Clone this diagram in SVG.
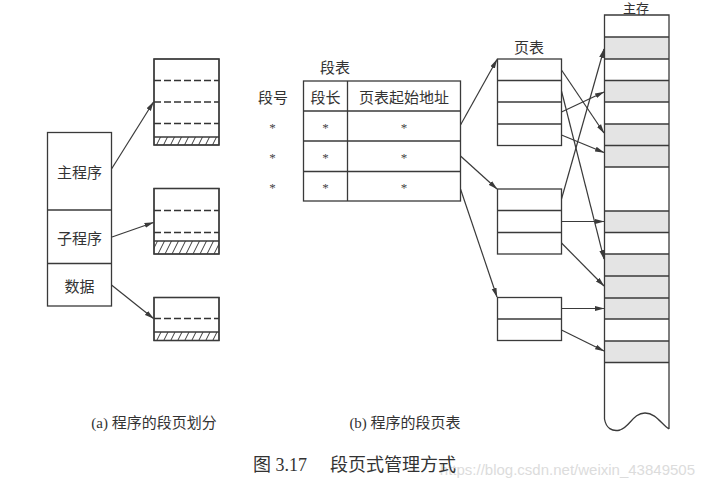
<svg xmlns="http://www.w3.org/2000/svg" width="708" height="489" viewBox="0 0 708 489">
<style>
.box{fill:#fff;stroke:#3a3a3a;stroke-width:1.3}
.ln{stroke:#3a3a3a;stroke-width:1.3;fill:none}
.dash{stroke:#333;stroke-width:1.3;stroke-dasharray:7 3;fill:none}
.gray{fill:#e4e4e4;stroke:none}
.t{font-family:"Liberation Serif","Noto Sans CJK SC",serif;font-size:15px;fill:#333;text-anchor:middle}
.star{font-family:"Liberation Serif",serif;font-size:13px;fill:#444;text-anchor:middle}
.arr{stroke:#3a3a3a;stroke-width:1.2;fill:none;marker-end:url(#ah)}
</style>
<defs>
<marker id="ah" markerUnits="userSpaceOnUse" markerWidth="10" markerHeight="6" refX="9" refY="3" orient="auto">
<path d="M0,0.5 L9.5,3 L0,5.5 z" fill="#3a3a3a"/>
</marker>
<pattern id="hatch" patternUnits="userSpaceOnUse" width="7" height="14">
<path d="M-2,14 L5,0 M5,14 L12,0" stroke="#3a3a3a" stroke-width="1"/>
</pattern>
</defs>
<rect width="708" height="489" fill="#fff"/>

<!-- (a) program -->
<g id="program">
<rect class="box" x="47.5" y="132.5" width="64" height="173.5"/>
<line class="ln" x1="47.5" y1="210" x2="111.5" y2="210"/>
<line class="ln" x1="47.5" y1="263.5" x2="111.5" y2="263.5"/>
<text class="t" x="79.5" y="178">主程序</text>
<text class="t" x="79.5" y="243.5">子程序</text>
<text class="t" x="79.5" y="292">数据</text>
</g>

<g id="seg-main">
<rect class="box" x="154" y="59" width="65" height="86"/>
<rect x="154" y="137" width="65" height="8" fill="url(#hatch)"/>
<line class="ln" x1="154" y1="137" x2="219" y2="137" stroke-width="0.8"/>
<line class="dash" x1="154" y1="80.5" x2="219" y2="80.5"/>
<line class="dash" x1="154" y1="102" x2="219" y2="102"/>
<line class="dash" x1="154" y1="123.5" x2="219" y2="123.5"/>
<rect x="154" y="59" width="65" height="86" fill="none" stroke="#3a3a3a" stroke-width="1.3"/>
</g>

<g id="seg-sub">
<rect class="box" x="154" y="188.5" width="65" height="65.5"/>
<rect x="154" y="241" width="65" height="13" fill="url(#hatch)"/>
<line class="ln" x1="154" y1="241" x2="219" y2="241" stroke-width="0.8"/>
<line class="dash" x1="154" y1="210.5" x2="219" y2="210.5"/>
<line class="dash" x1="154" y1="232.5" x2="219" y2="232.5"/>
<rect x="154" y="188.5" width="65" height="65.5" fill="none" stroke="#3a3a3a" stroke-width="1.3"/>
</g>

<g id="seg-data">
<rect class="box" x="154" y="297.5" width="65" height="43"/>
<rect x="154" y="332" width="65" height="8.5" fill="url(#hatch)"/>
<line class="ln" x1="154" y1="332" x2="219" y2="332" stroke-width="0.8"/>
<line class="dash" x1="154" y1="318.5" x2="219" y2="318.5"/>
<rect x="154" y="297.5" width="65" height="43" fill="none" stroke="#3a3a3a" stroke-width="1.3"/>
</g>

<!-- (b) segment table -->
<g id="seg-table">
<text class="t" x="335" y="73">段表</text>
<text class="t" x="273" y="102.5">段号</text>
<rect class="box" x="303.5" y="81" width="157" height="120"/>
<line class="ln" x1="347.5" y1="81" x2="347.5" y2="201"/>
<line class="ln" x1="303.5" y1="111" x2="460.5" y2="111"/>
<line class="ln" x1="303.5" y1="141" x2="460.5" y2="141"/>
<line class="ln" x1="303.5" y1="171.5" x2="460.5" y2="171.5"/>
<text class="t" x="325.5" y="102.5">段长</text>
<text class="t" x="404" y="102.5">页表起始地址</text>
<text class="star" x="272.5" y="132">*</text>
<text class="star" x="325.5" y="132">*</text>
<text class="star" x="404" y="132">*</text>
<text class="star" x="272.5" y="162">*</text>
<text class="star" x="325.5" y="162">*</text>
<text class="star" x="404" y="162">*</text>
<text class="star" x="272.5" y="192">*</text>
<text class="star" x="325.5" y="192">*</text>
<text class="star" x="404" y="192">*</text>
</g>

<g id="page-table-1">
<text class="t" x="529" y="53">页表</text>
<rect class="box" x="497.5" y="59" width="64" height="86.5"/>
<line class="ln" x1="497.5" y1="80.5" x2="561.5" y2="80.5"/>
<line class="ln" x1="497.5" y1="102" x2="561.5" y2="102"/>
<line class="ln" x1="497.5" y1="124" x2="561.5" y2="124"/>
</g>
<g id="page-table-2">
<rect class="box" x="497.5" y="189" width="64" height="65"/>
<line class="ln" x1="497.5" y1="210.5" x2="561.5" y2="210.5"/>
<line class="ln" x1="497.5" y1="232.5" x2="561.5" y2="232.5"/>
</g>
<g id="page-table-3">
<rect class="box" x="497.5" y="297.5" width="64" height="43"/>
<line class="ln" x1="497.5" y1="319" x2="561.5" y2="319"/>
</g>

<!-- main memory -->
<g id="memory">
<text class="t" x="636" y="12.5" style="font-size:13px">主存</text>
<path d="M604.5,419 L604.5,15 L669,15 L669,429 C662,425 656,413 645,413 C633,413 630,427 620,430 C612,432 606,428 604.5,419 Z" fill="#fff"/>
<rect class="gray" x="604.5" y="37" width="64.5" height="22"/>
<rect class="gray" x="604.5" y="80.5" width="64.5" height="21.5"/>
<rect class="gray" x="604.5" y="124" width="64.5" height="43"/>
<rect class="gray" x="604.5" y="211" width="64.5" height="21.5"/>
<rect class="gray" x="604.5" y="254" width="64.5" height="65"/>
<rect class="gray" x="604.5" y="341" width="64.5" height="21.5"/>
<g class="ln">
<line x1="604.5" y1="37" x2="669" y2="37"/>
<line x1="604.5" y1="59" x2="669" y2="59"/>
<line x1="604.5" y1="80.5" x2="669" y2="80.5"/>
<line x1="604.5" y1="102" x2="669" y2="102"/>
<line x1="604.5" y1="124" x2="669" y2="124"/>
<line x1="604.5" y1="145.5" x2="669" y2="145.5"/>
<line x1="604.5" y1="167" x2="669" y2="167"/>
<line x1="604.5" y1="211" x2="669" y2="211"/>
<line x1="604.5" y1="232.5" x2="669" y2="232.5"/>
<line x1="604.5" y1="254" x2="669" y2="254"/>
<line x1="604.5" y1="276" x2="669" y2="276"/>
<line x1="604.5" y1="298" x2="669" y2="298"/>
<line x1="604.5" y1="319" x2="669" y2="319"/>
<line x1="604.5" y1="341" x2="669" y2="341"/>
<line x1="604.5" y1="362.5" x2="669" y2="362.5"/>
</g>
<path class="ln" d="M604.5,419 L604.5,15 L669,15 L669,429 M604.5,419 C606,428 612,432 620,430 C630,427 633,413 645,413 C656,413 662,425 669,429"/>
</g>

<!-- connectors -->
<g id="connectors">
<line class="arr" x1="111.5" y1="169" x2="153.5" y2="102"/>
<line class="arr" x1="112" y1="237" x2="153.5" y2="222.5"/>
<line class="arr" x1="111.5" y1="285" x2="153.5" y2="318.5"/>
<line class="arr" x1="460.5" y1="125" x2="497" y2="59.5"/>
<line class="arr" x1="460.5" y1="156" x2="497" y2="189"/>
<line class="arr" x1="460.5" y1="189" x2="497" y2="297"/>
<line class="arr" x1="561.5" y1="70" x2="604" y2="133"/>
<line class="arr" x1="561.5" y1="91" x2="604" y2="259"/>
<line class="arr" x1="561.5" y1="112" x2="604" y2="92"/>
<line class="arr" x1="561.5" y1="135" x2="604" y2="152.5"/>
<line class="arr" x1="561.5" y1="199" x2="604" y2="49"/>
<line class="arr" x1="561.5" y1="221.5" x2="604" y2="221.5"/>
<line class="arr" x1="561.5" y1="243" x2="604" y2="286"/>
<line class="arr" x1="561.5" y1="308.5" x2="604" y2="308.5"/>
<line class="arr" x1="561.5" y1="330" x2="604" y2="351"/>
</g>

<!-- captions -->
<g id="captions">
<text x="695" y="475" font-family="Liberation Sans,Arial,sans-serif" font-size="15" fill="#dcdcdc" text-anchor="end">https://blog.csdn.net/weixin_43849505</text>
<text class="t" x="154" y="428">(a) 程序的段页划分</text>
<text class="t" x="405" y="428">(b) 程序的段页表</text>
<text y="471" font-family="Liberation Serif,Noto Sans CJK SC,serif" font-size="18" fill="#333"><tspan x="253">图 3.17</tspan><tspan x="330">段页式管理方式</tspan></text>
</g>
</svg>
